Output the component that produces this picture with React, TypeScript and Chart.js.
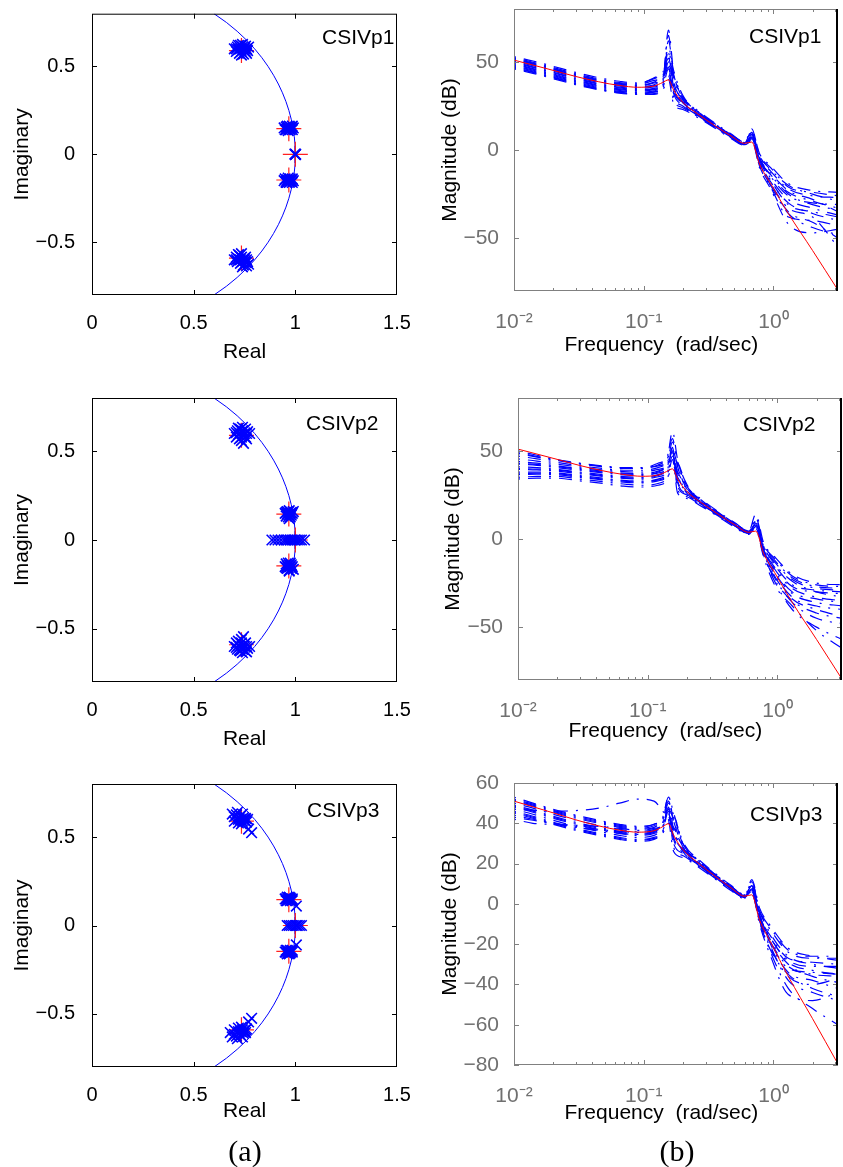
import React, { useEffect, useRef } from 'react';
import { Chart, registerables } from 'chart.js';

Chart.register(...registerables);

const SANS = "'Liberation Sans', Arial, Helvetica, sans-serif";
const SERIF = "'Liberation Serif', 'Times New Roman', serif";

// ---------------- Pole-zero data ----------------
const PANEL_NAMES = ['CSIVp1', 'CSIVp2', 'CSIVp3'];

// unit circle (reference arc)
const CIRCLE_RE = [0.6, 0.6614, 0.7141, 0.7599, 0.8, 0.8352, 0.866, 0.893, 0.9165, 0.9367, 0.9539, 0.9682, 0.9798, 0.9887, 0.995, 0.9987, 1, 0.9987, 0.995, 0.9887, 0.9798, 0.9682, 0.9539, 0.9367, 0.9165, 0.893, 0.866, 0.8352, 0.8, 0.7599, 0.7141, 0.6614, 0.6];
const CIRCLE_IM = [0.8, 0.75, 0.7, 0.65, 0.6, 0.55, 0.5, 0.45, 0.4, 0.35, 0.3, 0.25, 0.2, 0.15, 0.1, 0.05, 0, -0.05, -0.1, -0.15, -0.2, -0.25, -0.3, -0.35, -0.4, -0.45, -0.5, -0.55, -0.6, -0.65, -0.7, -0.75, -0.8];

// true poles (red +)
const TRUE_RE = [0.735, 0.735, 0.968, 0.968, 1.0];
const TRUE_IM = [0.59, -0.59, 0.146, -0.146, 0];

// estimated poles (blue x), [real, imag]
const EST_P1 = [
  [0.7, 0.6], [0.71, 0.585], [0.715, 0.61], [0.72, 0.595], [0.725, 0.575], [0.73, 0.62], [0.73, 0.6], [0.735, 0.585],
  [0.74, 0.61], [0.745, 0.595], [0.745, 0.57], [0.75, 0.6], [0.755, 0.615], [0.755, 0.585], [0.76, 0.6], [0.765, 0.59],
  [0.77, 0.61], [0.72, 0.62], [0.74, 0.625], [0.735, 0.565], [0.76, 0.575], [0.71, 0.6],
  [0.7, -0.6], [0.71, -0.585], [0.715, -0.61], [0.72, -0.595], [0.725, -0.575], [0.73, -0.62], [0.73, -0.6], [0.735, -0.585],
  [0.74, -0.61], [0.745, -0.595], [0.745, -0.63], [0.75, -0.6], [0.755, -0.615], [0.755, -0.585], [0.76, -0.6], [0.765, -0.61],
  [0.77, -0.625], [0.72, -0.57], [0.74, -0.64], [0.735, -0.565], [0.76, -0.635], [0.71, -0.6],
  [0.945, 0.15], [0.95, 0.14], [0.955, 0.155], [0.96, 0.145], [0.96, 0.16], [0.965, 0.135], [0.965, 0.15], [0.97, 0.145],
  [0.97, 0.16], [0.975, 0.14], [0.975, 0.155], [0.98, 0.15], [0.985, 0.14], [0.985, 0.16], [0.99, 0.15], [0.955, 0.14],
  [0.945, -0.15], [0.95, -0.14], [0.955, -0.155], [0.96, -0.145], [0.96, -0.16], [0.965, -0.135], [0.965, -0.15], [0.97, -0.145],
  [0.97, -0.16], [0.975, -0.14], [0.975, -0.155], [0.98, -0.15], [0.985, -0.14], [0.985, -0.16], [0.99, -0.15], [0.955, -0.16],
  [1.0, 0], [1.002, 0], [0.998, 0.002], [1.0, -0.002],
];
const EST_P2 = [
  [0.7, 0.6], [0.71, 0.58], [0.715, 0.615], [0.72, 0.595], [0.725, 0.57], [0.73, 0.625], [0.73, 0.6], [0.735, 0.58],
  [0.74, 0.615], [0.745, 0.595], [0.745, 0.545], [0.75, 0.6], [0.755, 0.625], [0.755, 0.58], [0.76, 0.6], [0.765, 0.61],
  [0.775, 0.6], [0.72, 0.63], [0.74, 0.635], [0.735, 0.56], [0.76, 0.57], [0.71, 0.605],
  [0.7, -0.6], [0.71, -0.58], [0.715, -0.615], [0.72, -0.595], [0.725, -0.62], [0.73, -0.625], [0.73, -0.6], [0.735, -0.58],
  [0.74, -0.615], [0.745, -0.595], [0.745, -0.545], [0.75, -0.6], [0.755, -0.625], [0.755, -0.58], [0.76, -0.6], [0.765, -0.61],
  [0.775, -0.6], [0.72, -0.57], [0.74, -0.635], [0.735, -0.56], [0.76, -0.63], [0.71, -0.605],
  [0.95, 0.15], [0.955, 0.135], [0.96, 0.16], [0.96, 0.145], [0.965, 0.13], [0.965, 0.155], [0.97, 0.14], [0.97, 0.165],
  [0.975, 0.15], [0.975, 0.13], [0.98, 0.155], [0.98, 0.14], [0.985, 0.15], [0.99, 0.16], [0.955, 0.155], [0.97, 0.12],
  [0.95, -0.15], [0.955, -0.135], [0.96, -0.16], [0.96, -0.145], [0.965, -0.13], [0.965, -0.155], [0.97, -0.14], [0.97, -0.17],
  [0.975, -0.15], [0.975, -0.13], [0.98, -0.16], [0.98, -0.14], [0.985, -0.15], [0.99, -0.165], [0.955, -0.155], [0.97, -0.175],
  [0.885, 0], [0.9, 0], [0.915, 0], [0.93, 0], [0.945, 0], [0.955, 0], [0.965, 0], [0.975, 0], [0.985, 0], [0.995, 0],
  [1.0, 0], [1.01, 0], [1.02, 0], [1.03, 0], [1.045, 0],
];
const EST_P3 = [
  [0.69, 0.63], [0.7, 0.615], [0.715, 0.64], [0.72, 0.6], [0.73, 0.62], [0.74, 0.59], [0.745, 0.61], [0.75, 0.595],
  [0.755, 0.605], [0.735, 0.575], [0.72, 0.58], [0.76, 0.585], [0.77, 0.545], [0.785, 0.525], [0.7, 0.59], [0.74, 0.63],
  [0.73, 0.6], [0.765, 0.6], [0.71, 0.625], [0.725, 0.61], [0.745, 0.6], [0.755, 0.59],
  [0.69, -0.63], [0.7, -0.615], [0.715, -0.64], [0.72, -0.6], [0.73, -0.62], [0.74, -0.59], [0.745, -0.61], [0.75, -0.595],
  [0.755, -0.605], [0.735, -0.575], [0.72, -0.58], [0.76, -0.585], [0.77, -0.545], [0.785, -0.525], [0.7, -0.59], [0.74, -0.63],
  [0.73, -0.6], [0.68, -0.605], [0.71, -0.625], [0.725, -0.61], [0.745, -0.6], [0.755, -0.59],
  [0.955, 0.15], [0.965, 0.145], [0.975, 0.155], [0.96, 0.14], [0.97, 0.16], [0.98, 0.145], [0.95, 0.15], [0.965, 0.155],
  [0.975, 0.14], [0.985, 0.15], [1.005, 0.11], [0.97, 0.15], [0.96, 0.16], [0.975, 0.15], [0.985, 0.14], [0.955, 0.14],
  [0.955, -0.15], [0.965, -0.145], [0.975, -0.155], [0.96, -0.14], [0.97, -0.16], [0.98, -0.145], [0.95, -0.15], [0.965, -0.155],
  [0.975, -0.14], [0.985, -0.15], [1.005, -0.11], [0.97, -0.15], [0.96, -0.16], [0.975, -0.15], [0.985, -0.14], [0.955, -0.14],
  [0.96, 0], [0.97, 0], [0.98, 0], [0.99, 0], [1.0, 0], [1.005, 0], [1.01, 0], [1.02, 0], [1.03, 0],
];
const EST_POLES = [EST_P1, EST_P2, EST_P3];

const PZ_X_TICKS = [0, 0.5, 1, 1.5];
const PZ_Y_TICKS = [-0.5, 0, 0.5];

// ---------------- Bode magnitude data ----------------
const FREQ = [0.01, 0.014, 0.02, 0.03, 0.045, 0.065, 0.09, 0.12, 0.14, 0.155, 0.17, 0.2, 0.26, 0.35, 0.47, 0.6, 0.68, 0.78, 0.95, 1.3, 2.0, 3.14];
const TRUE_MAG = [51, 48.2, 45.2, 41.7, 38.7, 36.6, 35.6, 36.3, 38.3, 39.8, 34, 27, 20.5, 14, 8, 3.8, 4.5, -8, -19, -36, -57, -79.5];

const MAG_P1 = [
  [53, 50.5, 47.5, 44, 41, 39, 38, 40.5, 43, 48, 42, 30, 22.5, 15.5, 9.2, 4.6, 7, -4, -12, -22, -26, -27],
  [52, 49.3, 46.3, 42.8, 39.8, 37.8, 37, 39.5, 42, 58, 45, 31, 22, 15, 8.8, 4.2, 9, -5, -15, -26, -30, -31],
  [51, 48.3, 45.3, 41.8, 38.8, 36.8, 36, 37, 40, 44, 30, 25, 19.5, 13.5, 7.5, 3.5, 6, -7, -18, -30, -36, -40],
  [50, 47.2, 44.2, 40.7, 37.7, 35.7, 34.8, 35.8, 39, 68, 44, 29.5, 21.8, 14.8, 8.6, 4, 11, -2, -9, -19, -23, -24],
  [49, 46.2, 43.2, 39.7, 36.7, 34.7, 33.8, 34.5, 37, 50, 36, 26, 19.8, 13.5, 7.4, 3, 5, -8, -20, -36, -44, -48],
  [48, 45.3, 42.3, 38.8, 35.8, 33.8, 32.8, 33.5, 36, 42, 28, 24, 19, 13, 7, 3.2, 8, -6, -14, -24, -29, -33],
  [47, 44.3, 41.3, 37.8, 34.8, 32.8, 32, 33, 36.5, 62, 43, 30, 22, 15, 8.8, 4.5, 12, -3, -11, -20, -25, -29],
  [46, 43.5, 40.5, 37, 34.2, 32.2, 31.5, 32, 35, 46, 33, 26.5, 20.2, 14, 7.9, 3.6, 6.5, -9, -21, -38, -40, -43],
  [52.5, 49.8, 46.8, 43.3, 40.3, 38.3, 37.5, 41, 44, 52, 38, 28, 21, 14.5, 8.4, 4, 7.5, -5, -13, -23, -28, -35],
  [50.5, 47.8, 44.8, 41.3, 38.3, 36.3, 35.4, 36.5, 39.5, 65, 40, 28.5, 21, 14.3, 8.2, 3.8, 10, -4, -16, -28, -33, -37],
  [48.5, 45.8, 42.8, 39.3, 36.3, 34.3, 33.4, 34.3, 37.5, 55, 35, 27, 20.3, 13.9, 7.9, 3.3, 8.5, -7, -19, -33, -38, -55],
  [47.5, 44.8, 41.8, 38.3, 35.3, 33.3, 32.5, 31.5, 34, 40, 26, 23, 18.5, 12.6, 6.6, 2.6, 5.5, -10, -22, -42, -47, -45],
  [51.5, 48.8, 45.8, 42.3, 39.3, 37.3, 36.5, 38, 41, 56, 41, 29, 21.5, 14.6, 8.5, 4.1, 9.5, -3, -10, -21, -24, -26],
  [49.5, 46.8, 43.8, 40.3, 37.3, 35.3, 34.3, 35, 38, 47, 32, 25.5, 19.6, 13.4, 7.4, 3.1, 7, -6, -17, -31, -35, -38],
  [46.5, 44, 41, 37.5, 34.5, 32.5, 31.8, 32.8, 36, 53, 37, 27.5, 20.8, 14.2, 8.1, 3.7, 9, -5, -14, -25, -31, -34],
  [52, 49, 46, 42.5, 39.5, 37.5, 36.7, 38.5, 42, 45, 34, 26.8, 20.4, 13.8, 7.7, 3.4, 6, -8, -20, -35, -41, -50],
];
const MAG_P2 = [
  [50, 47.5, 45, 43, 41.5, 40.5, 40.5, 42, 45, 50, 42, 30, 22.5, 15.5, 9.2, 4.6, 8, -4, -12, -22, -27, -28],
  [48.5, 46.5, 44.5, 42.5, 41, 40, 40, 41.5, 44, 61, 45, 31, 22, 15, 8.8, 4.2, 14, -2, -10, -20, -25, -26],
  [47, 45.5, 43.5, 41.5, 40, 39, 39, 40.5, 43, 48, 30, 25, 19.5, 13.5, 7.5, 3.5, 6, -6, -16, -27, -30, -31],
  [45.5, 44.2, 42.5, 40.8, 39.2, 38.2, 38, 39.5, 42, 55, 44, 29.5, 21.8, 14.8, 8.6, 4, 10, -5, -18, -30, -34, -36],
  [44, 43, 41.5, 40, 38.5, 37.4, 37, 38.5, 41, 46, 36, 26, 19.8, 13.5, 7.4, 3, 7, -7, -20, -33, -38, -40],
  [42.5, 41.8, 40.5, 39, 37.5, 36.4, 36, 37.5, 40, 52, 28, 24, 19, 13, 7, 3.2, 11, -4, -14, -24, -30, -33],
  [41, 40.5, 39.5, 38, 36.5, 35.4, 35, 36.5, 39, 44, 43, 30, 22, 15, 8.8, 4.5, 6, -8, -22, -36, -45, -48],
  [39.5, 39.2, 38.5, 37, 35.5, 34.4, 34, 35.3, 38, 50, 33, 26.5, 20.2, 14, 7.9, 3.6, 9, -5, -17, -28, -33, -35],
  [38, 38, 37.5, 36, 34.5, 33.3, 32.8, 34, 36.5, 42, 38, 28, 21, 14.5, 8.4, 4, 5, -9, -24, -40, -50, -57],
  [36.5, 36.8, 36.5, 35, 33.5, 32.3, 31.8, 33, 35.5, 47, 40, 28.5, 21, 14.3, 8.2, 3.8, 8, -6, -19, -31, -36, -38],
  [35, 35.5, 35.5, 34, 32.5, 31.2, 30.5, 31.5, 34, 40, 35, 27, 20.3, 13.9, 7.9, 3.3, 6, -10, -26, -38, -52, -62],
  [34, 34.5, 34.5, 33, 31.5, 30, 29.5, 30.5, 33, 45, 26, 23, 18.5, 12.6, 6.6, 2.6, 7, -7, -21, -34, -40, -44],
  [49, 46.8, 44.8, 42.8, 41.2, 40.2, 40.2, 43, 46, 57, 41, 29, 21.5, 14.6, 8.5, 4.1, 12, -3, -11, -21, -26, -27],
  [43, 42.3, 41, 39.5, 38, 37, 36.5, 38, 41.5, 49, 32, 25.5, 19.6, 13.4, 7.4, 3.1, 9, -6, -15, -26, -29, -30],
  [37, 37.3, 37, 35.5, 34, 32.8, 32.3, 33.5, 36, 52, 37, 27.5, 20.8, 14.2, 8.1, 3.7, 7.5, -8, -23, -35, -42, -45],
  [40, 39.7, 39, 37.5, 36, 34.9, 34.5, 36, 38.5, 43, 34, 26.8, 20.4, 13.8, 7.7, 3.4, 10, -4, -13, -23, -28, -29],
];
const MAG_P3 = [
  [53, 50, 47, 44, 41.5, 39.5, 38.5, 39.5, 42, 47, 42, 30, 22.5, 15.5, 9.2, 4.6, 9, -4, -13, -24, -27, -27],
  [52, 49.5, 46.5, 43.5, 41, 39, 38, 39.5, 43, 53, 45, 31, 22, 15, 8.8, 4.2, 12, -2, -11, -22, -26, -28],
  [51, 48.5, 45.5, 42.5, 40, 38, 37, 38, 41, 45, 30, 25, 19.5, 13.5, 7.5, 3.5, 7, -6, -17, -28, -31, -31],
  [50, 47.5, 44.5, 41.5, 39, 37, 36, 37, 40, 50, 44, 29.5, 21.8, 14.8, 8.6, 4, 10, -5, -19, -32, -34, -35],
  [49, 46.5, 43.5, 40.5, 38, 36, 35, 36, 38.5, 43, 36, 26, 19.8, 13.5, 7.4, 3, 6, -8, -22, -36, -40, -37],
  [48, 45.5, 42.5, 39.5, 37, 35, 34, 35, 38, 48, 28, 24, 19, 13, 7, 3.2, 11, -3, -15, -26, -30, -32],
  [47, 44.5, 41.5, 38.5, 36, 34, 33, 34, 37, 41, 43, 30, 22, 15, 8.8, 4.5, 5, -9, -24, -42, -52, -60],
  [46, 43.5, 40.5, 37.5, 35, 33, 32, 33, 36, 46, 33, 26.5, 20.2, 14, 7.9, 3.6, 8, -6, -18, -30, -36, -39],
  [45, 42.5, 39.5, 36.5, 34, 32, 31, 32, 35, 40, 38, 28, 21, 14.5, 8.4, 4, 6, -10, -26, -45, -48, -44],
  [44, 42, 40, 38, 36.5, 35, 34.5, 36, 40, 53.8, 40, 28.5, 21, 14.3, 8.2, 3.8, 9, -5, -20, -34, -38, -42],
  [42, 40, 39.5, 39, 38.5, 37.5, 36.5, 37.5, 39, 44, 35, 27, 20.3, 13.9, 7.9, 3.3, 7, -7, -21, -38, -44, -48],
  [47, 46.5, 46, 46.3, 47.5, 50, 52, 51, 46, 42, 26, 23, 18.5, 12.6, 6.6, 2.6, 7, -7, -17, -29, -33, -35],
  [51.5, 49, 46, 43, 40.5, 38.5, 37.5, 38.8, 42, 51, 41, 29, 21.5, 14.6, 8.5, 4.1, 10.5, -3, -12, -23, -26, -26],
  [48.5, 46, 43, 40, 37.5, 35.5, 34.5, 35.5, 38.5, 47, 32, 25.5, 19.6, 13.4, 7.4, 3.1, 8, -6, -16, -27, -29, -30],
  [45.5, 43, 40, 37, 34.5, 32.5, 31.5, 32.5, 35.5, 49, 37, 27.5, 20.8, 14.2, 8.1, 3.7, 9, -8, -23, -35, -42, -46],
  [43, 41.5, 40, 38.5, 37, 36, 35.5, 36.5, 39.5, 45, 34, 26.8, 20.4, 13.8, 7.7, 3.4, 7.5, -6, -19, -31, -35, -36],
];
const EST_MAGS = [MAG_P1, MAG_P2, MAG_P3];

const BODE_X_TICKS = [0.01, 0.1, 1];
const BODE_X_LABELS = ['10\u207B\u00B2', '10\u207B\u00B9', '10\u2070'];
const BODE_X_MINOR = [0.02, 0.03, 0.04, 0.05, 0.06, 0.07, 0.08, 0.09, 0.2, 0.3, 0.4, 0.5, 0.6, 0.7, 0.8, 0.9, 2, 3];
const BODE_Y_TICKS_A = [-50, 0, 50];
const BODE_Y_TICKS_B = [-80, -60, -40, -20, 0, 20, 40, 60];
const BODE_Y_TICKS = [BODE_Y_TICKS_A, BODE_Y_TICKS_A, BODE_Y_TICKS_B];
const BODE_Y_RANGE = [[-80, 80], [-80, 80], [-80, 60]];

// ---------------- layout ----------------
type Box = { cx: number; cy: number; cw: number; ch: number; plot: number[]; yTitleX: number; xTitleY: number };

const PZ_BOXES: Box[] = [
  { cx: 0, cy: 0, cw: 420, ch: 380, plot: [92, 12, 397, 295], yTitleX: 22, xTitleY: 352 },
  { cx: 0, cy: 380, cw: 420, ch: 380, plot: [92, 398, 397, 682], yTitleX: 22, xTitleY: 739 },
  { cx: 0, cy: 760, cw: 420, ch: 407, plot: [92, 784, 397, 1067], yTitleX: 22, xTitleY: 1111.7 },
];
const BODE_BOXES: Box[] = [
  { cx: 420, cy: 0, cw: 423, ch: 380, plot: [514, 9, 838, 291], yTitleX: 450, xTitleY: 345 },
  { cx: 420, cy: 380, cw: 423, ch: 380, plot: [518, 398, 842, 680], yTitleX: 453, xTitleY: 731.7 },
  { cx: 420, cy: 760, cw: 423, ch: 407, plot: [514, 783, 838, 1065], yTitleX: 450, xTitleY: 1113 },
];
const PZ_NAME_POS = [[322, 36], [306, 422.7], [307, 809.3]];
const BODE_NAME_POS = [[749, 35], [743, 423.3], [750, 813.3]];

const TITLE_SIZE = 21;
const LH = TITLE_SIZE * 1.2;

function geometry(B: Box) {
  const [l, t, r, b] = B.plot;
  const hx = B.xTitleY + LH / 2 - b;
  return {
    padding: { left: 0, top: t - B.cy, right: B.cx + B.cw - r, bottom: B.cy + B.ch - (b + hx) },
    yWidth: l - B.cx,
    xHeight: hx,
    yTitlePad: B.yTitleX - B.cx - LH / 2,
  };
}

const fmtNum = (v: number) => (v < 0 ? '\u2212' : '') + String(Math.abs(v));

const framePlugin = {
  id: 'frameTicks',
  afterDatasetsDraw(chart: any, _args: any, o: any) {
    const { ctx, chartArea: a } = chart;
    const xs = chart.scales.x;
    const ys = chart.scales.y;
    ctx.save();
    ctx.strokeStyle = o.color;
    ctx.lineWidth = 1;
    ctx.beginPath();
    const vx = (v: number, len: number) => {
      const p = Math.round(xs.getPixelForValue(v)) + 0.5;
      ctx.moveTo(p, a.bottom);
      ctx.lineTo(p, a.bottom - len);
      ctx.moveTo(p, a.top);
      ctx.lineTo(p, a.top + len);
    };
    o.xMajor.forEach((v: number) => vx(v, o.len));
    o.xMinor.forEach((v: number) => vx(v, o.minorLen));
    o.yMajor.forEach((v: number) => {
      const p = Math.round(ys.getPixelForValue(v)) + 0.5;
      ctx.moveTo(a.left, p);
      ctx.lineTo(a.left + o.len, p);
      ctx.moveTo(a.right, p);
      ctx.lineTo(a.right - o.len, p);
    });
    ctx.stroke();
    ctx.strokeRect(a.left + 0.5, a.top + 0.5, a.right - a.left - 1, a.bottom - a.top - 1);
    if (o.rightEdge) {
      ctx.fillStyle = o.rightEdge;
      ctx.fillRect(a.right - 2, a.top, 2, a.bottom - a.top);
    }
    ctx.restore();
  },
};

function baseOptions(B: Box) {
  const g = geometry(B);
  return {
    g,
    options: {
      responsive: false,
      animation: false,
      devicePixelRatio: 1,
      events: [],
      layout: { padding: g.padding },
    },
  };
}

function pzConfig(i: number) {
  const B = PZ_BOXES[i];
  const { g, options } = baseOptions(B);
  return {
    type: 'scatter',
    data: {
      datasets: [
        {
          data: EST_POLES[i].map(([x, y]) => ({ x, y })),
          showLine: false,
          pointStyle: 'crossRot',
          pointRadius: 7.5,
          pointHoverRadius: 7.5,
          pointBorderColor: '#0000ff',
          pointBackgroundColor: '#0000ff',
          pointBorderWidth: 1.6,
        },
        {
          data: TRUE_RE.map((x, k) => ({ x, y: TRUE_IM[k] })),
          showLine: false,
          pointStyle: 'cross',
          pointRadius: 12.5,
          pointHoverRadius: 12.5,
          pointBorderColor: '#ff2020',
          pointBackgroundColor: '#ff2020',
          pointBorderWidth: 1.2,
        },
        {
          data: CIRCLE_RE.map((x, k) => ({ x, y: CIRCLE_IM[k] })),
          showLine: true,
          pointRadius: 0,
          pointHoverRadius: 0,
          borderColor: '#0000ff',
          borderWidth: 1,
          tension: 0,
        },
      ],
    },
    options: {
      ...options,
      plugins: {
        legend: { display: false },
        tooltip: { enabled: false },
        frameTicks: { color: '#000000', len: 5, minorLen: 0, xMajor: [0.5, 1], xMinor: [], yMajor: PZ_Y_TICKS, rightEdge: null },
      },
      scales: {
        x: {
          type: 'linear',
          min: 0,
          max: 1.5,
          afterBuildTicks: (s: any) => { s.ticks = PZ_X_TICKS.map((v) => ({ value: v })); },
          afterFit: (s: any) => { s.height = g.xHeight; s.paddingLeft = 0; s.paddingRight = 0; s.paddingTop = 0; s.paddingBottom = 0; },
          grid: { display: false },
          border: { display: false },
          ticks: { color: '#000', font: { family: SANS, size: 20 }, padding: 8, autoSkip: false, maxRotation: 0, callback: (v: number) => fmtNum(v) },
          title: { display: true, text: 'Real', color: '#000', font: { family: SANS, size: TITLE_SIZE }, padding: { top: 0, bottom: 0 } },
        },
        y: {
          type: 'linear',
          min: -0.8,
          max: 0.8,
          afterBuildTicks: (s: any) => { s.ticks = PZ_Y_TICKS.map((v) => ({ value: v })); },
          afterFit: (s: any) => { s.width = g.yWidth; s.paddingLeft = 0; s.paddingRight = 0; s.paddingTop = 0; s.paddingBottom = 0; },
          grid: { display: false },
          border: { display: false },
          ticks: { color: '#000', font: { family: SANS, size: 20 }, padding: 9, autoSkip: false, callback: (v: number) => fmtNum(v) },
          title: { display: true, text: 'Imaginary', color: '#000', font: { family: SANS, size: TITLE_SIZE }, padding: { top: g.yTitlePad, bottom: 0 } },
        },
      },
    },
    plugins: [framePlugin],
  };
}

function bodeConfig(i: number) {
  const B = BODE_BOXES[i];
  const { g, options } = baseOptions(B);
  const grey = '#707070';
  return {
    type: 'scatter',
    data: {
      datasets: [
        {
          data: FREQ.map((x, k) => ({ x, y: TRUE_MAG[k] })),
          showLine: true,
          pointRadius: 0,
          pointHoverRadius: 0,
          borderColor: '#ff0000',
          borderWidth: 1,
          cubicInterpolationMode: 'monotone',
        },
        ...EST_MAGS[i].map((m) => ({
          data: FREQ.map((x, k) => ({ x, y: m[k] })),
          showLine: true,
          pointRadius: 0,
          pointHoverRadius: 0,
          borderColor: '#0000ff',
          borderWidth: 1.2,
          borderDash: [13, 8, 2, 8],
          borderDashOffset: 21,
          cubicInterpolationMode: 'monotone',
        })),
      ],
    },
    options: {
      ...options,
      plugins: {
        legend: { display: false },
        tooltip: { enabled: false },
        frameTicks: { color: '#808080', len: 5, minorLen: 3, xMajor: [0.1, 1], xMinor: BODE_X_MINOR, yMajor: BODE_Y_TICKS[i], rightEdge: '#000000' },
      },
      scales: {
        x: {
          type: 'logarithmic',
          min: 0.01,
          max: 3.1416,
          afterBuildTicks: (s: any) => { s.ticks = BODE_X_TICKS.map((v) => ({ value: v })); },
          afterFit: (s: any) => { s.height = g.xHeight; s.paddingLeft = 0; s.paddingRight = 0; s.paddingTop = 0; s.paddingBottom = 0; },
          grid: { display: false },
          border: { display: false },
          ticks: {
            color: grey,
            font: { family: SANS, size: 21 },
            padding: 11,
            autoSkip: false,
            maxRotation: 0,
            callback: (v: number) => BODE_X_LABELS[BODE_X_TICKS.indexOf(v)] ?? '',
          },
          title: { display: true, text: 'Frequency  (rad/sec)     ', color: '#000', font: { family: SANS, size: TITLE_SIZE }, padding: { top: 0, bottom: 0 } },
        },
        y: {
          type: 'linear',
          min: BODE_Y_RANGE[i][0],
          max: BODE_Y_RANGE[i][1],
          afterBuildTicks: (s: any) => { s.ticks = BODE_Y_TICKS[i].map((v) => ({ value: v })); },
          afterFit: (s: any) => { s.width = g.yWidth; s.paddingLeft = 0; s.paddingRight = 0; s.paddingTop = 0; s.paddingBottom = 0; },
          grid: { display: false },
          border: { display: false },
          ticks: { color: grey, font: { family: SANS, size: 21 }, padding: 7, autoSkip: false, callback: (v: number) => fmtNum(v) },
          title: { display: true, text: 'Magnitude (dB)', color: '#000', font: { family: SANS, size: TITLE_SIZE }, padding: { top: g.yTitlePad, bottom: 0 } },
        },
      },
    },
    plugins: [framePlugin],
  };
}

function ChartCanvas({ box, make }: { box: Box; make: () => any }) {
  const ref = useRef<HTMLCanvasElement>(null);
  useEffect(() => {
    const chart = new Chart(ref.current as HTMLCanvasElement, make());
    return () => chart.destroy();
  }, []);
  return (
    <canvas
      ref={ref}
      width={box.cw}
      height={box.ch}
      style={{ position: 'absolute', left: box.cx, top: box.cy, width: box.cw, height: box.ch }}
    />
  );
}

function Label({ x, cy, text }: { x: number; cy: number; text: string }) {
  return (
    <div
      style={{
        position: 'absolute',
        left: x,
        top: cy - 0.4885 * TITLE_SIZE,
        fontFamily: SANS,
        fontSize: TITLE_SIZE,
        lineHeight: 1,
        whiteSpace: 'nowrap',
        color: '#000',
      }}
    >
      {text}
    </div>
  );
}

function Caption({ cx, cy, text }: { cx: number; cy: number; text: string }) {
  const size = 30;
  return (
    <div
      style={{
        position: 'absolute',
        left: cx - 60,
        width: 120,
        textAlign: 'center',
        top: cy - 0.579 * size,
        fontFamily: SERIF,
        fontSize: size,
        lineHeight: 1,
        color: '#000',
      }}
    >
      {text}
    </div>
  );
}

export default function App() {
  return (
    <div style={{ position: 'absolute', left: 0, top: 0, width: 843, height: 1167, overflow: 'hidden', background: '#ffffff' }}>
      {PZ_BOXES.map((b, i) => (
        <ChartCanvas key={'pz' + i} box={b} make={() => pzConfig(i)} />
      ))}
      {BODE_BOXES.map((b, i) => (
        <ChartCanvas key={'bode' + i} box={b} make={() => bodeConfig(i)} />
      ))}
      {PANEL_NAMES.map((n, i) => (
        <Label key={'pzn' + i} x={PZ_NAME_POS[i][0]} cy={PZ_NAME_POS[i][1]} text={n} />
      ))}
      {PANEL_NAMES.map((n, i) => (
        <Label key={'bn' + i} x={BODE_NAME_POS[i][0]} cy={BODE_NAME_POS[i][1]} text={n} />
      ))}
      <Caption cx={245} cy={1153} text="(a)" />
      <Caption cx={677} cy={1153} text="(b)" />
    </div>
  );
}
